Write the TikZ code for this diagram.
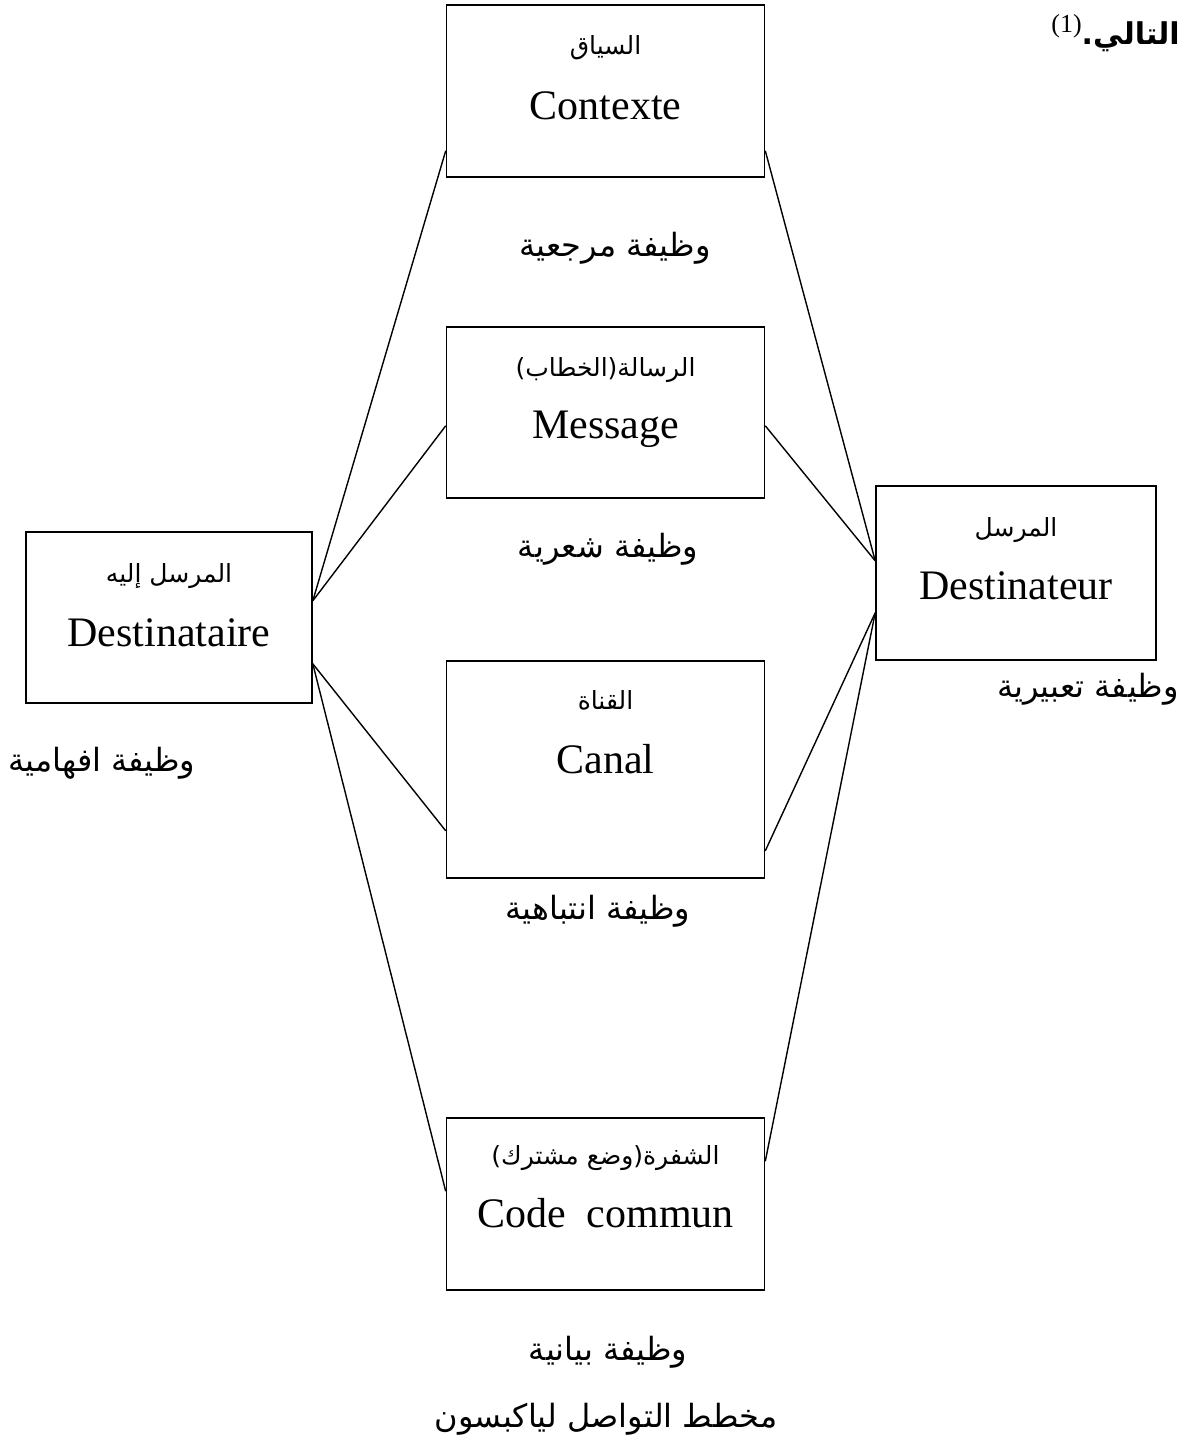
\documentclass[tikz,border=0pt]{standalone}
\usepackage{fontspec}
\setmainfont{Liberation Serif}
\newfontfamily\arabicfont[Script=Arabic]{DejaVu Sans}
\TeXXeTstate=1
\usetikzlibrary{positioning,calc}
\tikzset{
  box/.style={draw, line width=1.6pt, rectangle, inner sep=0pt},
  lat/.style={anchor=base, inner sep=0pt, font=\fontsize{42}{48}\selectfont},
  arsmall/.style={anchor=base, inner sep=0pt, font=\arabicfont\fontsize{25}{30}\selectfont},
  func/.style={anchor=base, inner sep=0pt, font=\arabicfont\fontsize{32}{38}\selectfont},
  link/.style={line width=1.4pt}
}
\begin{document}
\begin{tikzpicture}[x=1pt,y=-1pt]
\useasboundingbox (0,0) rectangle (1192,1448);
% boxes
\node[box, minimum width=318pt, minimum height=172pt] (ctx) at (605.5,91) {};
\node[box, minimum width=318pt, minimum height=171pt] (msg) at (605.5,412.5) {};
\node[box, minimum width=318pt, minimum height=217pt] (can) at (605.5,769.5) {};
\node[box, minimum width=318pt, minimum height=172pt] (cod) at (605.5,1204) {};
\node[box, minimum width=286pt, minimum height=171pt] (dre) at (169,617.5) {};
\node[box, minimum width=280pt, minimum height=174pt] (dst) at (1016,573) {};
% box texts
\node[arsmall] (ctxA) at ([yshift=-50pt]ctx.north) {\beginR السياق\endR};
\node[lat] (ctxL) at ([yshift=-115pt]ctx.north) {Contexte};
\node[arsmall] (msgA) at ([yshift=-50pt]msg.north) {\beginR الرسالة(الخطاب)\endR};
\node[lat] (msgL) at ([yshift=-112pt]msg.north) {Message};
\node[arsmall] (canA) at ([yshift=-49pt]can.north) {\beginR القناة\endR};
\node[lat] (canL) at ([yshift=-113pt]can.north) {Canal};
\node[arsmall] (codA) at ([yshift=-47pt]cod.north) {\beginR الشفرة(وضع مشترك)\endR};
\node[lat] (codL) at ([yshift=-110pt]cod.north) {Code\ \ commun};
\node[arsmall] (dreA) at ([yshift=-51pt]dre.north) {\beginR المرسل إليه\endR};
\node[lat] (dreL) at ([yshift=-115pt]dre.north) {Destinataire};
\node[arsmall] (dstA) at ([yshift=-51pt]dst.north) {\beginR المرسل\endR};
\node[lat] (dstL) at ([yshift=-114pt]dst.north) {Destinateur};
% function labels
\node[func] (f1) at (615,256) {\beginR وظيفة مرجعية\endR};
\node[func] (f2) at (608,557) {\beginR وظيفة شعرية\endR};
\node[func] (f3) at (102,771) {\beginR وظيفة افهامية\endR};
\node[func] (f4) at (1088,697) {\beginR وظيفة تعبيرية\endR};
\node[func] (f5) at (598,919) {\beginR وظيفة انتباهية\endR};
\node[func] (f6) at (608,1360) {\beginR وظيفة بيانية\endR};
\node[func] (title) at (606,1427) {\beginR مخطط التواصل لياكبسون\endR};
% top-right fragment
\node[anchor=base east, inner sep=0pt] (top) at (1180,44)
  {\raisebox{12pt}{\fontsize{26}{30}\selectfont (1)}{\arabicfont\bfseries\fontsize{30}{36}\selectfont\beginR التالي.\endR}};
% connector points
\coordinate (dreU) at ([yshift=103pt]dre.south east);
\coordinate (dreD) at ([yshift=40pt]dre.south east);
\coordinate (dstU) at ([yshift=100pt]dst.south west);
\coordinate (dstD) at ([yshift=48pt]dst.south west);
% connectors
\draw[link] (dreU) -- ([yshift=27pt]ctx.south west);
\draw[link] (dreU) -- ([yshift=73pt]msg.south west);
\draw[link] (dreD) -- ([yshift=48pt]can.south west);
\draw[link] (dreD) -- ([yshift=-74pt]cod.north west);
\draw[link] (dstU) -- ([yshift=27pt]ctx.south east);
\draw[link] (dstU) -- ([yshift=73pt]msg.south east);
\draw[link] (dstD) -- ([yshift=28pt]can.south east);
\draw[link] (dstD) -- ([yshift=-44pt]cod.north east);
\end{tikzpicture}
\end{document}
